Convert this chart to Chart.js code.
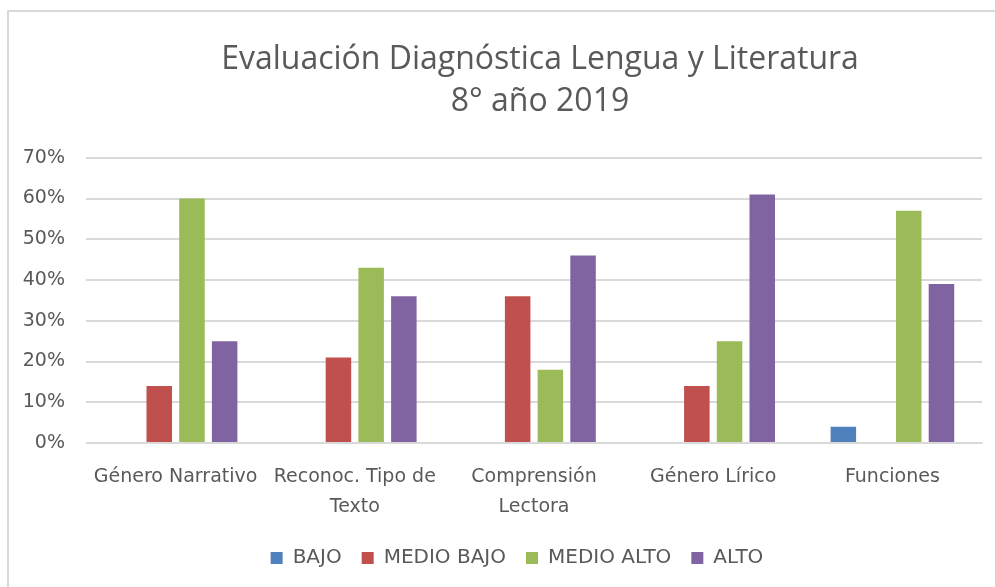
<!DOCTYPE html>
<html>
<head>
<meta charset="utf-8">
<script src="https://cdn.jsdelivr.net/npm/chart.js@4"></script>
<style>
  html, body { margin: 0; padding: 0; background: #fff; }
  #wrap { position: absolute; left: 0; top: 0; width: 995px; height: 587px; }
  #frame { position: absolute; left: 7px; top: 10px; width: 1000px; height: 600px;
           border-left: 2px solid #d9d9d9; border-top: 2px solid #d9d9d9; }
  canvas { position: absolute; left: 0; top: 0; }
</style>
</head>
<body>
<div id="wrap">
  <div id="frame"></div>
  <canvas id="chart" width="995" height="587"></canvas>
</div>
<script>
// data
const categories = [
  'Género Narrativo',
  ['Reconoc. Tipo de', 'Texto'],
  ['Comprensión', 'Lectora'],
  'Género Lírico',
  'Funciones'
];
const bajo = [0, 0, 0, 0, 4];
const medioBajo = [14, 21, 36, 14, 0];
const medioAlto = [60, 43, 18, 25, 57];
const alto = [25, 36, 46, 61, 39];

const titleLines = ['Evaluación Diagnóstica Lengua y Literatura', '8° año 2019'];
const textColor = '#595959';
const labelFont = '"DejaVu Sans", sans-serif';

// title and legend sit a bit right of the canvas centre in the original
const nudge = {
  id: 'nudge',
  afterLayout(chart) {
    chart.legend.left += 22;
    chart.legend.right += 22;
    chart.titleBlock.left += 45;
    chart.titleBlock.right += 45;
  }
};

const ctx = document.getElementById('chart').getContext('2d');
const chart = new Chart(ctx, {
  type: 'bar',
  data: {
    labels: categories,
    datasets: [
      { label: 'BAJO', data: bajo, backgroundColor: '#4F81BD' },
      { label: 'MEDIO BAJO', data: medioBajo, backgroundColor: '#C0504D' },
      { label: 'MEDIO ALTO', data: medioAlto, backgroundColor: '#9BBB59' },
      { label: 'ALTO', data: alto, backgroundColor: '#8064A2' }
    ]
  },
  plugins: [nudge],
  options: {
    responsive: false,
    animation: false,
    layout: { padding: { left: 8, right: 13, top: 38, bottom: 9 } },
    datasets: { bar: { barPercentage: 0.78, categoryPercentage: 0.73 } },
    plugins: {
      title: {
        display: true,
        text: titleLines,
        color: textColor,
        font: { family: '"Open Sans", sans-serif', size: 32, weight: 'normal', lineHeight: 1.34 },
        padding: { top: 0, bottom: 34 }
      },
      legend: {
        position: 'bottom',
        labels: {
          color: textColor,
          font: { family: labelFont, size: 20 },
          boxWidth: 12,
          boxHeight: 12,
          padding: 20
        }
      },
      tooltip: { enabled: false }
    },
    scales: {
      x: {
        afterFit: (s) => { s.height = 85; },
        grid: { display: false },
        border: { display: true, color: '#d9d9d9' },
        ticks: {
          color: textColor,
          font: { family: labelFont, size: 19, lineHeight: 1.53 },
          maxRotation: 0,
          autoSkip: false,
          padding: 12
        }
      },
      y: {
        min: 0,
        max: 70,
        afterFit: (s) => { s.width = 78; },
        grid: { color: '#d9d9d9', lineWidth: 2, drawTicks: false },
        border: { display: false },
        ticks: {
          stepSize: 10,
          color: textColor,
          font: { family: labelFont, size: 19 },
          padding: 21,
          callback: (v) => v + '%'
        }
      }
    }
  }
});
</script>
</body>
</html>
